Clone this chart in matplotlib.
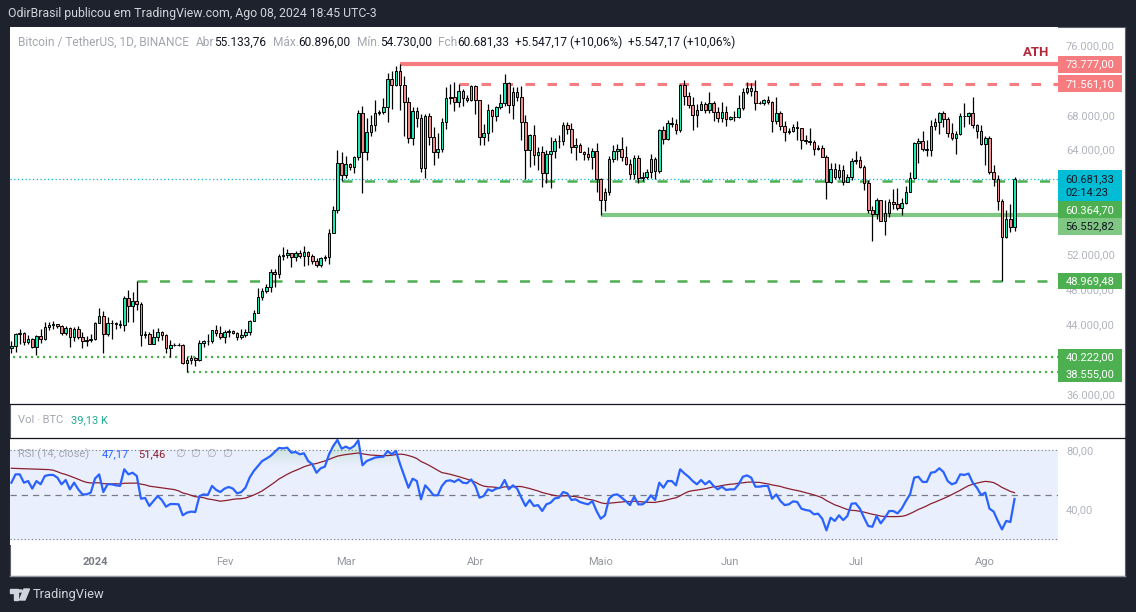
import numpy as np
import pandas as pd
import matplotlib
matplotlib.use('Agg')
import matplotlib.pyplot as plt
import matplotlib.dates as mdates
from matplotlib.patches import Rectangle, Polygon, Circle
from matplotlib.path import Path
from matplotlib.colors import to_rgb

plt.rcParams['font.family'] = ['Roboto', 'DejaVu Sans']

W, H = 1136, 612

# ---- daily BTCUSDT candles, 2023-12-12 .. 2024-08-08 ----
dates = pd.date_range('2023-12-12', '2024-08-08', freq='D')
first_open = 41240.0
closes = [
    # Dec
    41450, 42880, 43020, 41940, 42280, 41370, 42660, 42270, 43650, 43870,
    43990, 43740, 43020, 43600, 42520, 43440, 42580, 42070, 42140, 42280,
    # Jan
    44180, 44950, 42850, 44150, 44160, 43970, 43930, 46970, 46120, 46660,
    46340, 42780, 42840, 41730, 42510, 43140, 42770, 41280, 41620, 41660,
    41570, 39530, 39870, 40080, 39940, 41820, 42120, 42030, 43300, 42940, 42580,
    # Feb
    43080, 43190, 43000, 42580, 42710, 43090, 44340, 45290, 47130, 47750,
    48290, 49960, 49700, 51800, 51920, 52160, 51660, 52120, 51780, 52260,
    51850, 51300, 50730, 51570, 51730, 54480, 57040, 62430, 61130,
    # Mar
    62390, 61990, 63110, 68240, 63790, 66070, 66850, 68170, 68310, 68950,
    72110, 71450, 73070, 71390, 69470, 65300, 68390, 67610, 61940, 67860,
    65490, 63780, 64060, 67230, 69960, 69990, 69450, 70740, 69890, 69650, 71330,
    # Apr
    69700, 65460, 65970, 68510, 67840, 68900, 69360, 71620, 69150, 70620,
    70010, 67120, 63920, 65660, 63420, 63790, 61280, 63470, 63820, 64940,
    64960, 66840, 66410, 64280, 64500, 63770, 63460, 63120, 63840, 60640,
    # May
    58250, 59120, 62890, 63890, 64030, 63160, 62330, 61190, 63070, 60790,
    60820, 61480, 62940, 61580, 66270, 65230, 67050, 66940, 66280, 71450,
    70140, 69120, 67930, 68530, 69290, 68510, 69390, 68370, 67630, 68350, 67490,
    # Jun
    67710, 67760, 68800, 70570, 71080, 70760, 69340, 69310, 69650, 69510,
    67320, 68240, 66760, 66010, 66190, 66640, 66490, 65140, 64960, 64830,
    64100, 64250, 63180, 60280, 61800, 60860, 61680, 60320, 60890, 62670,
    # Jul
    62770, 62020, 60210, 57050, 56640, 58230, 55850, 56710, 58050, 57720,
    57340, 57890, 59200, 60800, 64720, 65040, 64090, 63970, 66660, 67150,
    68160, 67530, 65930, 65370, 65800, 67900, 67810, 68250, 66780, 66190, 64620,
    # Aug
    65350, 61500, 60680, 58120, 54020, 56030, 55133.76, 60681.33,
]
highs = [
    42100, 43000, 43430, 43090, 42720, 42430, 42750, 43480, 44280, 44240,
    44400, 44000, 43950, 43800, 43700, 43680, 43800, 43120, 42600, 42900,
    44230, 45880, 45500, 44800, 44500, 44300, 44500, 47250, 47900, 47700,
    48969.48, 46500, 43250, 43100, 43400, 43580, 43200, 42930, 42200, 41870,
    41880, 41680, 40280, 40500, 40280, 42200, 42200, 42840, 43300, 43880, 43750,
    43290, 43480, 43380, 43120, 43500, 43420, 44530, 45600, 48200, 48170,
    48590, 50330, 50360, 52040, 52820, 52580, 52200, 52360, 52490, 52990,
    52380, 52080, 51540, 51700, 51960, 54900, 57580, 64000, 63680,
    63230, 62480, 63230, 68500, 69000, 67600, 67990, 69680, 68540, 69930,
    72800, 73000, 73650, 73777, 72400, 70000, 68900, 68920, 68100, 68100,
    68240, 66650, 65970, 67600, 71150, 71560, 71730, 71561.10, 70990, 70300, 71370,
    71400, 69700, 66920, 69290, 68720, 69030, 70330, 72720, 71760, 71170,
    71230, 71280, 67930, 65820, 66880, 64360, 64480, 64000, 65480, 65390,
    65660, 67200, 67180, 67070, 65290, 64790, 63900, 64360, 64220, 64730,
    60780, 59600, 63320, 64490, 64650, 65500, 64400, 62990, 63400, 63440,
    61420, 61800, 63450, 63110, 66420, 66700, 67440, 67700, 67500, 71500,
    71979, 70630, 70080, 69220, 69560, 69500, 70600, 69560, 68900, 69500, 69020,
    67860, 68460, 70290, 71060, 71760, 71620, 71997, 69560, 69850, 70150,
    69560, 70000, 68450, 67300, 66450, 66950, 67300, 66500, 65730, 66480,
    65070, 64530, 64500, 63370, 62430, 62480, 62380, 62190, 61200, 63050,
    63900, 63300, 62300, 60500, 57570, 58470, 58240, 58250, 58300, 59460,
    59650, 58520, 59850, 61420, 64900, 65390, 66120, 65120, 67390, 67610,
    68370, 68480, 67800, 67100, 66150, 68200, 69400, 68320, 70080, 66990, 66820,
    65590, 65600, 62200, 61120, 58300, 57040, 57730, 60896,
]
lows = [
    40680, 40870, 41770, 41660, 41700, 41250, 40500, 41810, 42170, 43330,
    43400, 43570, 42750, 42720, 41400, 42100, 42300, 41300, 41520, 41970,
    42180, 44150, 40750, 42630, 42300, 43400, 43600, 43180, 44300, 44300,
    45600, 41500, 42440, 41720, 41700, 42050, 42200, 40680, 40280, 41450,
    41500, 39430, 38555, 39480, 39260, 39820, 41390, 41620, 41800, 42680, 42280,
    41880, 42550, 42870, 42230, 42250, 42580, 42720, 44330, 45240, 46800,
    47530, 47700, 48300, 49260, 51320, 51580, 50600, 51300, 51600, 50620,
    50820, 50930, 50500, 50580, 51280, 50900, 54450, 56690, 60364.70,
    60800, 61650, 61320, 62800, 59000, 62850, 65530, 66150, 67980, 68100,
    67190, 68620, 71330, 68555, 65600, 64780, 64550, 66600, 61500, 60775,
    64530, 62260, 63000, 63760, 66390, 69280, 68380, 68900, 69000, 69500, 69560,
    68060, 64500, 64490, 65050, 66000, 67240, 68700, 69040, 68210, 67520,
    69560, 65090, 60660, 62000, 62300, 61720, 59770, 60200, 59600, 63090,
    64200, 64500, 65800, 63600, 62800, 63700, 62800, 62800, 61760, 59100,
    56552.82, 56940, 58850, 62560, 62870, 62700, 62250, 60630, 60590, 60150,
    60400, 60630, 60750, 60650, 61350, 64650, 65100, 66650, 65850, 66060,
    69160, 68800, 66300, 66620, 68530, 68250, 68230, 67280, 67120, 67130, 66670,
    67380, 67260, 67620, 68560, 70380, 70120, 68500, 69200, 69120, 69230,
    66050, 66900, 66300, 65050, 65800, 66030, 65100, 64060, 64690, 64510,
    63380, 63940, 63110, 58400, 60230, 60600, 60620, 60000, 60270, 60560,
    62400, 61850, 59400, 56770, 53485, 56030, 55780, 54260, 56300, 57160,
    57050, 56530, 57770, 59150, 60650, 62420, 63900, 63260, 63300, 66250,
    65780, 66580, 65440, 65120, 63450, 65740, 66620, 67000, 66480, 65290, 64530,
    62250, 61200, 59860, 57120, 49000, 53900, 54560, 54730,
]

rsi = [
    58.2, 63.8, 63.8, 58.2, 59.3, 54.2, 59.3, 57.1, 62.7, 63.4,
    63.4, 61.6, 57.1, 60.0, 53.7, 58.2, 53.7, 50.3, 50.3, 51.5,
    60.9, 63.8, 51.9, 57.1, 57.1, 56.4, 56.0, 67.2, 63.8, 64.9,
    62.7, 47.4, 47.9, 42.5, 45.8, 49.2, 46.5, 42.0, 43.8, 43.8,
    43.6, 36.2, 38.0, 38.7, 38.4, 49.2, 50.3, 49.9, 56.0, 53.3, 51.9,
    54.2, 55.3, 54.2, 51.0, 51.9, 54.8, 61.6, 66.1, 69.4, 72.8,
    74.4, 76.2, 78.9, 81.6, 81.3, 81.8, 78.4, 78.9, 77.3, 78.0,
    72.8, 70.6, 64.9, 67.9, 69.0, 77.3, 82.9, 87.0, 81.1,
    82.5, 81.1, 82.9, 86.8, 69.9, 72.8, 73.9, 75.1, 75.5, 75.7,
    79.6, 77.3, 79.6, 70.6, 62.7, 54.8, 60.9, 59.3, 47.0, 56.4,
    53.3, 49.7, 49.7, 56.0, 59.3, 59.8, 58.7, 60.4, 58.2, 57.8, 60.4,
    56.0, 48.1, 49.2, 53.7, 52.6, 54.2, 54.8, 60.0, 53.7, 56.4,
    54.2, 48.1, 42.5, 46.5, 42.5, 43.1, 39.1, 43.6, 44.7, 47.6,
    48.1, 51.9, 51.0, 46.5, 47.0, 45.2, 44.3, 43.6, 45.8, 39.1,
    33.9, 36.2, 47.4, 49.9, 50.3, 48.1, 45.8, 43.1, 48.8, 43.6,
    43.6, 45.8, 49.7, 46.5, 58.2, 54.8, 59.3, 59.3, 56.4, 67.2,
    64.5, 62.2, 59.3, 57.1, 60.0, 57.1, 59.3, 56.0, 53.7, 55.5, 53.3,
    53.7, 53.7, 57.1, 62.2, 63.1, 61.6, 55.5, 55.5, 56.0, 56.0,
    47.4, 50.3, 45.8, 43.1, 43.6, 45.6, 45.2, 40.7, 39.8, 39.3,
    36.9, 37.3, 33.9, 26.1, 34.6, 32.4, 36.2, 33.0, 35.7, 44.0,
    44.3, 40.7, 34.6, 29.0, 28.5, 35.7, 30.8, 34.6, 39.1, 39.1,
    37.5, 40.7, 45.8, 50.3, 61.6, 62.2, 58.7, 58.7, 64.9, 65.4,
    67.9, 65.4, 59.3, 57.1, 58.2, 63.8, 63.4, 64.3, 58.2, 54.8, 49.9,
    51.5, 40.7, 38.7, 32.4, 26.7, 32.4, 31.7, 47.17,
]
# RSI moving average for the first days (its earlier history is off-screen)
rsi_ma_head = [67.9, 67.8, 67.7, 67.6, 67.5, 67.4, 67.3, 67.2, 67.1, 67.0,
               66.6, 65.6, 64.5, 63.7, 62.7, 61.6, 60.5, 59.3, 58.4]

# drawn levels: value, start day, kind
levels = [
    (73777.00, '2024-03-14', 'ath'),
    (71561.10, '2024-03-28', 'red_dash'),
    (60364.70, '2024-02-29', 'green_dash'),
    (56552.82, '2024-05-01', 'green_solid'),
    (48969.48, '2024-01-11', 'green_dash'),
    (40222.00, '2023-12-11', 'green_dot'),
    (38555.00, '2024-01-23', 'green_dot'),
]
last_price = 60681.33
countdown = '02:14:23'

month_starts = pd.to_datetime(['2024-01-01', '2024-02-01', '2024-03-01', '2024-04-01',
                               '2024-05-01', '2024-06-01', '2024-07-01', '2024-08-01'])
month_names = ['2024', 'Fev', 'Mar', 'Abr', 'Maio', 'Jun', 'Jul', 'Ago']
price_ticks = list(range(36000, 76001, 4000))
hidden_ticks = [40000, 56000, 60000, 72000]   # covered by the level labels

# ---- colours ----
FRAME = '#1e222d'
UP, DOWN = '#1de9b6', '#f08c8c'
RED, GREEN, LGREEN, CYAN = '#f77c80', '#4caf50', '#81c784', '#00bcd4'
GRAY = '#a3a6af'
INK = '#131722'


def br(v):
    s = f'{v:,.2f}'
    return s.replace(',', 'X').replace('.', ',').replace('X', '.')


def fx(px):
    return px / W


def fy(py):
    return 1 - py / H


fig = plt.figure(figsize=(W / 100, H / 100), dpi=100, facecolor=FRAME)
fig.add_artist(Rectangle((fx(10), fy(576)), fx(1125) - fx(10), fy(27) - fy(576),
                         transform=fig.transFigure, facecolor='white',
                         edgecolor='#5d606b', lw=0.8, zorder=0))

ax = fig.add_axes([fx(10), fy(404), fx(1058) - fx(10), fy(27) - fy(404)])
axv = fig.add_axes([fx(10), fy(438), fx(1058) - fx(10), fy(404) - fy(438)])
axr = fig.add_axes([fx(10), fy(545), fx(1058) - fx(10), fy(438) - fy(545)])

base = mdates.date2num(pd.Timestamp('2024-01-01'))
xlo, xhi = base - 20.33, base + 230.4
x = mdates.date2num(dates)

for a in (ax, axv, axr):
    a.set_facecolor('white')
    a.set_xlim(xlo, xhi)
    for s in a.spines.values():
        s.set_visible(False)
    a.set_xticks([])
    a.set_yticks([])
axv.patch.set_alpha(0)

# ---- candles ----
c = np.array(closes, dtype=float)
o = np.concatenate([[first_open], c[:-1]])
hi = np.maximum(np.array(highs, dtype=float), np.maximum(o, c))
lo = np.minimum(np.array(lows, dtype=float), np.minimum(o, c))
cols = np.where(c >= o, UP, DOWN)
ax.vlines(x, lo, hi, colors='black', lw=0.9, zorder=3)
ax.bar(x, np.abs(c - o), bottom=np.minimum(o, c), width=0.62, color=cols,
       edgecolor='black', linewidth=0.7, zorder=4)

ax.set_ylim(34854, 78063)

styles = {
    'ath': dict(color=RED, lw=3.0, ls='-'),
    'red_dash': dict(color=RED, lw=2.2, ls=(0, (3.1, 4.1))),
    'green_dash': dict(color=GREEN, lw=1.8, ls=(0, (4.0, 5.0))),
    'green_solid': dict(color=LGREEN, lw=3.0, ls='-'),
    'green_dot': dict(color=GREEN, lw=1.6, ls=(0, (1, 1.7))),
}
for v, d0, kind in levels:
    st = styles[kind]
    ax.hlines(v, mdates.date2num(pd.Timestamp(d0)), xhi, colors=st['color'],
              linewidth=st['lw'], linestyles=[st['ls']], zorder=2)
ax.axhline(last_price, color=CYAN, lw=0.9, ls=(0, (1, 2)), zorder=2)

# price scale
ax.yaxis.tick_right()
ax.set_yticks(price_ticks)
ax.set_yticklabels(['' if t in hidden_ticks else br(t) for t in price_ticks])
ax.tick_params(axis='y', length=0, pad=5.8, labelsize=8, labelcolor='#b2b5be')

# ---- price labels on the scale, stacked like TradingView ----
label_rows = [(v, br(v), RED if k in ('ath', 'red_dash') else (LGREEN if k == 'green_solid' else GREEN),
               INK if k == 'green_solid' else 'white', 16.6) for v, _, k in levels]
label_rows.append((last_price, br(last_price) + '\n' + countdown, CYAN, INK, 31.0))
label_rows.sort(key=lambda r: -r[0])
prev_bottom = -1e9
for v, txt, bg, fg, h in label_rows:
    ypix = H - ax.transData.transform((xlo, v))[1]
    top = max(ypix - 8.3, prev_bottom)
    prev_bottom = top + h
    fig.add_artist(Rectangle((fx(1058), fy(top + h)), fx(1121.5) - fx(1058), h / H,
                             transform=fig.transFigure, facecolor=bg, edgecolor='none', zorder=5))
    for i, line in enumerate(txt.split('\n')):
        fig.text(fx(1065.5), fy(top + 8.6 + i * 14.2), line, color=fg, fontsize=8,
                 va='center', ha='left', zorder=6)

fig.text(fx(1036), fy(52), 'ATH', color='#b2283a', fontsize=9.5, fontweight='bold',
         ha='center', va='center')

# ---- RSI pane ----
rlo, rhi = 16.2, 88.3
r = np.array(rsi)
ma = pd.Series(r).rolling(20).mean().to_numpy()
ma[:len(rsi_ma_head)] = rsi_ma_head

axr.axhspan(20, 80, color='#e9effd', zorder=0)
axr.axhline(80, color='#787b86', lw=0.8, ls=(0, (1, 2.2)), zorder=1)
axr.axhline(20, color='#787b86', lw=0.8, ls=(0, (1, 2.2)), zorder=1)
axr.axhline(50, color='#787b86', lw=0.9, ls=(0, (5, 4)), zorder=1)

ob = axr.fill_between(x, r, 70, where=r > 70, interpolate=True,
                      facecolor='none', edgecolor='none')
clip = Path.make_compound_path(*ob.get_paths())
vals = np.linspace(rlo, rhi, 256)
grad = np.zeros((256, 1, 4))
grad[..., :3] = to_rgb(GREEN)
grad[:, 0, 3] = np.clip((vals - 70) / 30, 0, 1) * 0.5
im = axr.imshow(grad, extent=[xlo, xhi, rlo, rhi], origin='lower', aspect='auto',
                interpolation='bilinear', zorder=1.5)
im.set_clip_path(clip, transform=axr.transData)

axr.plot(x, ma, color='#8c1f2d', lw=0.9, zorder=2)
axr.plot(x, r, color='#2962ff', lw=1.6, zorder=3, solid_joinstyle='round')
axr.set_xlim(xlo, xhi)
axr.set_ylim(rlo, rhi)

axr.yaxis.tick_right()
axr.set_yticks([40, 80])
axr.set_yticklabels(['40,00', '80,00'])
axr.tick_params(axis='y', length=0, pad=5.8, labelsize=8, labelcolor='#b2b5be')

axr.set_xticks(mdates.date2num(month_starts))
axr.set_xticklabels(month_names)
axr.tick_params(axis='x', length=0, pad=8.5, labelsize=8, labelcolor='#9598a1')
axr.get_xticklabels()[0].set_fontweight('bold')
axr.get_xticklabels()[0].set_color('#787b86')

# pane separators
for yy in (404, 438):
    fig.add_artist(plt.Line2D([fx(10), fx(1125)], [fy(yy), fy(yy)], color=INK, lw=0.9,
                              transform=fig.transFigure, zorder=4))
fig.add_artist(plt.Line2D([fx(10), fx(1125)], [fy(576), fy(576)], color='#9598a1', lw=1.0,
                          transform=fig.transFigure, zorder=4))


# ---- legends ----
def runs(x0, y0, parts, size):
    rend = fig.canvas.get_renderer()
    xx = x0
    for s, col, gap in parts:
        t = fig.text(fx(xx), fy(y0), s, color=col, fontsize=size, ha='left', va='center', zorder=6)
        xx += t.get_window_extent(renderer=rend).width + gap


fig.text(fx(8), fy(14), 'OdirBrasil publicou em TradingView.com, Ago 08, 2024 18:45 UTC-3',
         color='#d1d4dc', fontsize=8.8, ha='left', va='center')

runs(18, 42, [('Bitcoin / TetherUS, 1D, BINANCE', GRAY, 7),
              ('Abr', GRAY, 0), ('55.133,76', INK, 6),
              ('Máx.', GRAY, 0), ('60.896,00', INK, 6),
              ('Mín.', GRAY, 0), ('54.730,00', INK, 6),
              ('Fch', GRAY, 0), ('60.681,33', INK, 6),
              ('+5.547,17 (+10,06%)', INK, 6),
              ('+5.547,17 (+10,06%)', INK, 0)], 8.6)
runs(18, 420, [('Vol · BTC', GRAY, 8), ('39,13 K', '#22ab94', 0)], 8)
runs(18, 454, [('RSI (14, close)', GRAY, 13), ('47,17', '#2962ff', 9),
               ('51,46', '#8c1f2d', 9), ('∅', GRAY, 6), ('∅', GRAY, 6),
               ('∅', GRAY, 6), ('∅', GRAY, 0)], 8)

# ---- footer logo ----
lc = '#d1d4dc'
fig.add_artist(Polygon([(fx(10), fy(589)), (fx(18), fy(589)), (fx(18), fy(600)),
                        (fx(14), fy(600)), (fx(14), fy(593)), (fx(10), fy(593))],
                       closed=True, transform=fig.transFigure, color=lc))
fig.add_artist(Circle((fx(20.5), fy(591)), 2.0 / W, transform=fig.transFigure, color=lc))
fig.add_artist(Polygon([(fx(24), fy(589)), (fx(29.5), fy(589)), (fx(25), fy(600)),
                        (fx(19.5), fy(600))], closed=True, transform=fig.transFigure, color=lc))
fig.text(fx(33), fy(594.5), 'TradingView', color=lc, fontsize=9.3, ha='left', va='center')

fig.savefig('out.png', dpi=100, facecolor=FRAME)
